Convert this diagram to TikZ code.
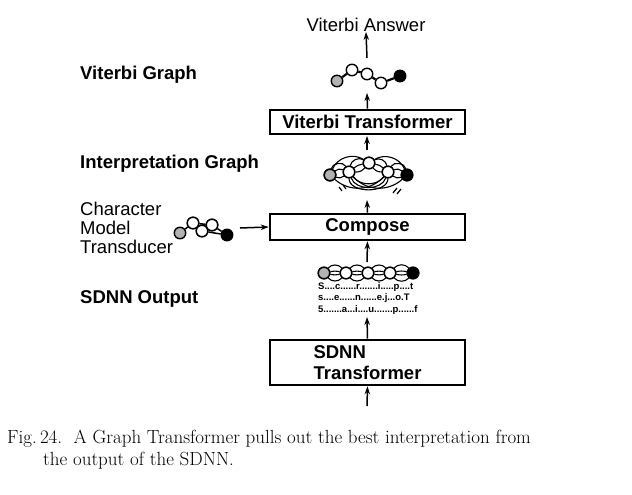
\documentclass[tikz,border=0pt]{standalone}
\usepackage{fontspec}
\setmainfont{Latin Modern Roman}
\newfontfamily\arialfont{Liberation Sans}
\usetikzlibrary{arrows.meta}
\tikzset{
  lbl/.style={font=\arialfont\bfseries\fontsize{18.5}{21}\selectfont, anchor=west, inner sep=0},
  boxn/.style={draw, line width=2.6pt, minimum width=195pt, inner sep=0, font=\arialfont\bfseries\fontsize{18.5}{21}\selectfont},
  arr/.style={line width=1.5pt, -{Stealth[length=8pt,width=5.5pt]}},
  gn/.style={circle, draw, line width=1.4pt, minimum size=11.5pt, inner sep=0},
  wn/.style={gn, fill=white},
  grn/.style={gn, fill=gray!60},
  bkn/.style={gn, fill=black},
  ge/.style={line width=2.2pt},
  thin/.style={line width=1.1pt},
  captext/.style={font=\fontsize{19}{23}\selectfont, anchor=west, inner sep=0},
}
\begin{document}
\begin{tikzpicture}[x=1pt,y=-1pt]
\useasboundingbox (0,0) rectangle (632,495);
% top answer
\node[font=\arialfont\fontsize{18.5}{21}\selectfont, inner sep=0] (ans) at (366,25) {Viterbi Answer};
% left labels
\node[lbl] (lvg) at (80,75) {Viterbi Graph};
\node[lbl] (lig) at (80,164) {Interpretation Graph};
\node[lbl] (lso) at (80,299) {SDNN Output};
\node[font=\arialfont\fontsize{18.5}{19}\selectfont, align=left, anchor=west, inner sep=0] (lcm) at (80,228) {Character\\Model\\Transducer};
% boxes
\node[boxn, minimum height=24pt] (vt) at (367.5,122) {Viterbi Transformer};
\node[boxn, minimum height=26pt] (cp) at (367.5,227) {Compose};
\node[boxn, minimum height=45pt, align=left] (st) at (367.5,362.5) {SDNN\\Transformer};
% Viterbi graph
\node[grn] (v1) at (337,81) {};
\node[wn] (v2) at (352,70) {};
\node[wn] (v3) at (367,74) {};
\node[wn] (v4) at (381,83) {};
\node[bkn] (v5) at (400,76) {};
\draw[ge] (v1)--(v2) (v2)--(v3) (v3)--(v4) (v4)--(v5);
% interpretation graph
\node[grn] (i1) at (330,175) {};
\node[wn] (i2) at (349,172) {};
\node[wn] (i3) at (369,163) {};
\node[wn] (i4) at (388,172) {};
\node[bkn] (i5) at (407,175) {};
\draw[thin] (i1) to[bend left=70] (i2);
\draw[thin] (i1) to[bend left=30] (i2);
\draw[thin] (i1) to[bend right=30] (i2);
\draw[thin] (i4) to[bend left=70] (i5);
\draw[thin] (i4) to[bend left=30] (i5);
\draw[thin] (i4) to[bend right=30] (i5);
\draw[thin] (i2) to[bend left=55] (i3);
\draw[thin] (i2) to[bend left=15] (i3);
\draw[thin] (i2) to[bend right=25] (i3);
\draw[thin] (i3) to[bend left=55] (i4);
\draw[thin] (i3) to[bend left=15] (i4);
\draw[thin] (i3) to[bend right=25] (i4);
\draw[thin] (i1) to[bend left=50] (i3);
\draw[thin] (i3) to[bend left=50] (i5);
\draw[thin] (i2) to[bend right=50] (i4);
\draw[thin] (i2) to[bend right=70] (i4);
\draw[thin] (i2) to[bend right=90] (i4);
\draw[thin] (i1) to[bend right=45] (i4);
\draw[thin] (i2) to[bend right=45] (i5);
\foreach \n in {i1,i2,i3,i4} \node[wn] at (\n) {};
\node[grn] at (i1) {};
\node[bkn] at (i5) {};
\coordinate (s1a) at (339,187); \coordinate (s1b) at (342,191);
\coordinate (s1c) at (343,185); \coordinate (s1d) at (346,189);
\draw[line width=1.2pt] (s1a)--(s1b) (s1c)--(s1d);
\coordinate (s2a) at (393,193); \coordinate (s2b) at (397,188);
\coordinate (s2c) at (397,194); \coordinate (s2d) at (401,189);
\draw[line width=1.2pt] (s2a)--(s2b) (s2c)--(s2d);
% character model transducer
\node[grn] (c1) at (180,233) {};
\node[wn] (c2) at (193,223) {};
\node[wn] (c3) at (202,231) {};
\node[wn] (c4) at (212,225) {};
\node[bkn] (c5) at (227,235) {};
\draw[line width=1.5pt] (c1)--(c2) (c2)--(c3) (c2)--(c4) (c3)--(c4) (c3)--(c5) (c4)--(c5);
\foreach \n in {c2,c3,c4} \node[wn] at (\n) {};
% SDNN output graph
\node[grn] (o1) at (324,273) {};
\node[wn] (o2) at (346,273) {};
\node[wn] (o3) at (368,273) {};
\node[wn] (o4) at (390,273) {};
\node[bkn] (o5) at (413,273) {};
\foreach \a/\b in {o1/o2,o2/o3,o3/o4,o4/o5}{
  \draw[thin] (\a) to[bend left=50] (\b);
  \draw[thin] (\a) to[bend right=50] (\b);
  \draw[thin] (\a) to[bend left=12] (\b);
  \draw[thin] (\a) to[bend right=12] (\b);
}
\foreach \n in {o2,o3,o4} \node[wn] at (\n) {};
\node[grn] at (o1) {};
\node[bkn] at (o5) {};
\node[font=\arialfont\bfseries\fontsize{9.5}{11.5}\selectfont, align=left, inner sep=0, anchor=north west] (otx) at (318,282) {S....c......r.......i.....p....t\\s....e......n......e.j...o.T\\5.......a...i....u.......p......f};
% connectors
\coordinate (abot) at (367,406);
\coordinate (vgbot) at (367,93);
\coordinate (igtop) at (367,150);
\coordinate (igbot) at (367,200);
\coordinate (anb) at (367,58);
\coordinate (otop) at (367,262);
\coordinate (obot) at (367,317);
\coordinate (vtin) at (367,136);
\draw[arr] (abot) -- (st.south);
\draw[arr] (st.north) -- (obot);
\draw[arr] (otop) -- (cp.south);
\draw[arr] (cp.north) -- (igbot);
\draw[arr] (igtop) -- (vtin);
\draw[arr] (vt.north) -- (vgbot);
\draw[arr] (anb) -- (ans.south);
\coordinate (cmr) at (240,228);
\draw[arr] (cmr) -- (cp.west);
% caption
\node[captext] (cap1) at (7,439) {Fig.\,24.\ \ A Graph Transformer pulls out the best interpretation from};
\node[captext] (cap2) at (43,461) {the output of the SDNN.};
\end{tikzpicture}
\end{document}
